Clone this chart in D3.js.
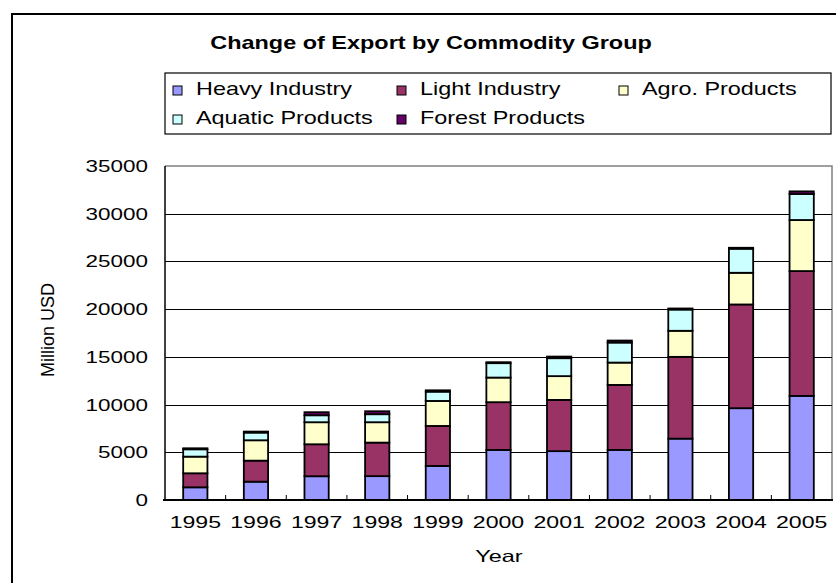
<!DOCTYPE html>
<html>
<head>
<meta charset="utf-8">
<script src="https://cdn.jsdelivr.net/npm/d3@7"></script>
<style>
  html, body { margin: 0; padding: 0; background: #fff; }
  svg { display: block; }
  text { font-family: "Liberation Sans", Arial, sans-serif; fill: #000; }
</style>
</head>
<body>
<svg id="chart" width="836" height="583"></svg>
<script>
// ---- data ----
const years = ["1995","1996","1997","1998","1999","2000","2001","2002","2003","2004","2005"];
const seriesNames = ["Heavy Industry","Light Industry","Agro. Products","Aquatic Products","Forest Products"];
const heavyIndustry   = [1330, 1920, 2490, 2500, 3570, 5250, 5120, 5250, 6430, 9620, 10910];
const lightIndustry   = [1470, 2205, 3350, 3515, 4190, 5000, 5370, 6810, 8570, 10870, 13080];
const agroProducts    = [1745, 2135, 2310, 2135, 2620, 2580, 2490, 2340, 2730, 3320, 5350];
const aquaticProducts = [770, 805, 730, 840, 975, 1510, 1880, 2100, 2230, 2520, 2730];
const forestProducts  = [105, 105, 320, 310, 140, 100, 170, 210, 110, 100, 270];
const yTicks = [0, 5000, 10000, 15000, 20000, 25000, 30000, 35000];
const titleText = "Change of Export by Commodity Group";
const xTitle = "Year";
const yTitle = "Million USD";

const colors = ["#9999FF", "#993366", "#FFFFCC", "#CCFFFF", "#660066"];
const seriesValues = [heavyIndustry, lightIndustry, agroProducts, aquaticProducts, forestProducts];

const table = years.map((yr, i) => {
  const row = { year: yr };
  seriesNames.forEach((s, k) => row[s] = seriesValues[k][i]);
  return row;
});

const svg = d3.select("#chart");

svg.append("rect").attr("x", 12).attr("y", 14).attr("width", 840).attr("height", 600)
  .attr("fill", "none").attr("stroke", "#000").attr("stroke-width", 2);

function stretchText(g, px, py, str, opts) {
  return g.append("text")
    .attr("transform", `translate(${px},${py}) scale(${opts.sx || 1},1)`)
    .attr("text-anchor", opts.anchor || "start")
    .attr("font-size", opts.size)
    .attr("font-weight", opts.weight || "normal")
    .text(str);
}

const pLeft = 165, pRight = 832, pTop = 166, pBottom = 500;

const x = d3.scaleBand().domain(years).range([pLeft, pRight]).paddingInner(0.6).paddingOuter(0.3);
const y = d3.scaleLinear().domain([0, 35000]).range([pBottom, pTop]);

svg.append("path")
  .attr("d", `M${pLeft},${pTop}H${pRight}V${pBottom}`)
  .attr("fill", "none").attr("stroke", "#808080").attr("stroke-width", 1.5);

svg.append("g").selectAll("line").data(yTicks.filter(d => d > 0 && d < 35000)).join("line")
  .attr("x1", pLeft).attr("x2", pRight)
  .attr("y1", d => Math.round(y(d)) + 0.5).attr("y2", d => Math.round(y(d)) + 0.5)
  .attr("stroke", "#000").attr("stroke-width", 1);

const ya = svg.append("g");
yTicks.forEach(t => {
  stretchText(ya, 148, y(t) + 6, String(t), { size: 16.5, sx: 1.36, anchor: "end" });
});

const stacked = d3.stack().keys(seriesNames)(table);
svg.append("g").selectAll("g").data(stacked).join("g")
  .attr("fill", (d, i) => colors[i])
  .selectAll("rect").data(d => d).join("rect")
  .attr("x", d => x(d.data.year))
  .attr("width", x.bandwidth())
  .attr("y", d => y(d[1]))
  .attr("height", d => y(d[0]) - y(d[1]))
  .attr("stroke", "#000").attr("stroke-width", 1.8);

svg.append("line").attr("x1", pLeft).attr("x2", pLeft).attr("y1", pTop).attr("y2", pBottom)
  .attr("stroke", "#000").attr("stroke-width", 1.5);
svg.append("line").attr("x1", pLeft - 2).attr("x2", pRight + 1).attr("y1", pBottom).attr("y2", pBottom)
  .attr("stroke", "#000").attr("stroke-width", 2);

const step = x.step();
svg.append("g").selectAll("line").data(d3.range(1, years.length)).join("line")
  .attr("x1", i => pLeft + i * step).attr("x2", i => pLeft + i * step)
  .attr("y1", pBottom).attr("y2", pBottom - 5)
  .attr("stroke", "#000").attr("stroke-width", 1);

const xa = svg.append("g");
years.forEach(yr => {
  stretchText(xa, x(yr) + x.bandwidth() / 2, 528, yr, { size: 16.5, sx: 1.4, anchor: "middle" });
});

stretchText(svg, 499, 562, xTitle, { size: 16.5, sx: 1.42, anchor: "middle" });
svg.append("text")
  .attr("transform", "translate(53.5,330) rotate(-90)")
  .attr("text-anchor", "middle").attr("font-size", 18)
  .attr("textLength", 94).attr("lengthAdjust", "spacingAndGlyphs")
  .text(yTitle);

stretchText(svg, 431, 48.5, titleText, { size: 17.5, sx: 1.34, anchor: "middle", weight: "bold" });

svg.append("rect").attr("x", 165).attr("y", 73).attr("width", 666).attr("height", 61)
  .attr("fill", "#fff").attr("stroke", "#000").attr("stroke-width", 1.2);
const legPos = [[173, 94.5], [397, 94.5], [619, 94.5], [173, 123.5], [397, 123.5]];
const lg = svg.append("g");
seriesNames.forEach((s, i) => {
  const [lx, ly] = legPos[i];
  lg.append("rect").attr("x", lx).attr("y", ly - 8.5).attr("width", 9).attr("height", 9)
    .attr("fill", colors[i]).attr("stroke", "#000").attr("stroke-width", 1);
  stretchText(lg, lx + 23, ly, s, { size: 18, sx: 1.3, anchor: "start" });
});
</script>
</body>
</html>
